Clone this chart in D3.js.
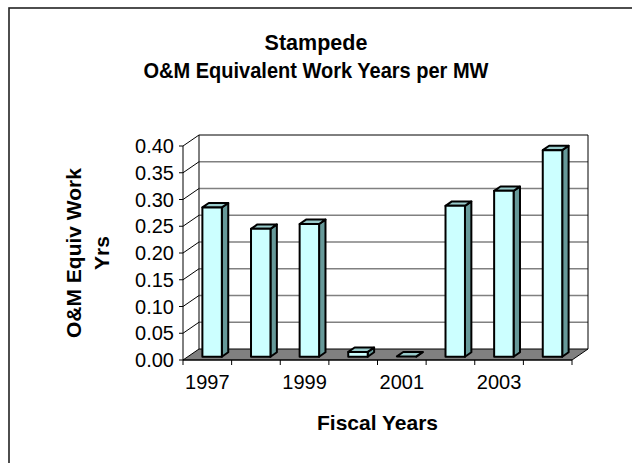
<!DOCTYPE html>
<html>
<head>
<meta charset="utf-8">
<script src="https://cdn.jsdelivr.net/npm/d3@7"></script>
<style>
  html, body { margin: 0; padding: 0; background: #fff; }
  svg { display: block; font-family: Arial, "Liberation Sans", sans-serif; }
</style>
</head>
<body>
<svg id="chart" width="632" height="463"></svg>
<script>
const categories = ["1997","1998","1999","2000","2001","2002","2003","2004"];
const values = [0.279, 0.239, 0.248, 0.009, 0.0005, 0.282, 0.31, 0.386];
const xTickLabels = ["1997","1999","2001","2003"];
const yTicks = [0, 0.05, 0.10, 0.15, 0.20, 0.25, 0.30, 0.35, 0.40];
const titleLines = ["Stampede", "O&M Equivalent Work Years per MW"];
const yTitleLines = ["O&M Equiv Work", "Yrs"];
const xTitle = "Fiscal Years";

const svg = d3.select("#chart");
const W = 632, H = 463;

// 3D projection parameters
const DX = 16, DY = -11;
const proj = (x, y, f) => [x + DX * f, y + DY * f];

const x = d3.scaleBand().domain(categories).range([183, 572]).paddingInner(0.6).paddingOuter(0.3);
const xEdges = d3.scaleLinear().domain([0, categories.length]).range([183, 572]);
const y = d3.scaleLinear().domain([0, 0.4]).range([360, 146]);

// Chart border
svg.append("rect").attr("x", 9).attr("y", 8).attr("width", W).attr("height", H)
  .attr("fill", "#fff").attr("stroke", "#222").attr("stroke-width", 1.6);

// Title
const title = svg.append("g");
title.append("text").attr("x", 316).attr("y", 50)
  .attr("text-anchor", "middle").attr("font-weight", "bold").attr("font-size", 21.5)
  .attr("fill", "#000").text(titleLines[0]);
title.append("text").attr("x", 316).attr("y", 78)
  .attr("text-anchor", "middle").attr("font-weight", "bold").attr("font-size", 21.5)
  .attr("textLength", 345).attr("lengthAdjust", "spacingAndGlyphs")
  .attr("fill", "#000").text(titleLines[1]);

const x0 = xEdges(0), x1 = xEdges(categories.length);
const yb = y(0), yt = y(0.4);
const poly = pts => "M" + pts.map(p => p.join(",")).join("L") + "Z";

// Left wall
svg.append("path").attr("d", poly([[x0, yb], proj(x0, yb, 1), proj(x0, yt, 1), [x0, yt]]))
  .attr("fill", "#fff").attr("stroke", "none");
// Back wall
svg.append("path").attr("d", poly([proj(x0, yb, 1), proj(x1, yb, 1), proj(x1, yt, 1), proj(x0, yt, 1)]))
  .attr("fill", "#fff").attr("stroke", "none");

// Back wall gridlines
svg.append("g").selectAll("line").data(yTicks.slice(1, -1)).join("line")
  .attr("x1", d => proj(x0, y(d), 1)[0]).attr("y1", d => proj(x0, y(d), 1)[1])
  .attr("x2", d => proj(x1, y(d), 1)[0]).attr("y2", d => proj(x1, y(d), 1)[1])
  .attr("stroke", "#808080").attr("stroke-width", 1.5);
// Left wall gridlines
svg.append("g").selectAll("line").data(yTicks.slice(1)).join("line")
  .attr("x1", x0).attr("y1", d => y(d))
  .attr("x2", d => proj(x0, y(d), 1)[0]).attr("y2", d => proj(x0, y(d), 1)[1])
  .attr("stroke", "#000").attr("stroke-width", 1);

// Back wall outline (left, top, right)
svg.append("path")
  .attr("d", "M" + [proj(x0, yb, 1), proj(x0, yt, 1), proj(x1, yt, 1), proj(x1, yb, 1)].map(p => p.join(",")).join("L"))
  .attr("fill", "none").attr("stroke", "#000").attr("stroke-width", 1);

// Floor
svg.append("path").attr("d", poly([[x0, yb], [x1, yb], proj(x1, yb, 1), proj(x0, yb, 1)]))
  .attr("fill", "#808080").attr("stroke", "#000").attr("stroke-width", 1);

// Bars
const F0 = 0.3, F1 = 0.7;
const bars = svg.append("g");
categories.forEach((c, i) => {
  const v = values[i];
  const bx0 = x(c), bx1 = x(c) + x.bandwidth();
  const by0 = y(0), by1 = y(v);
  const g = bars.append("g");
  const front = [proj(bx0, by0, F0), proj(bx1, by0, F0), proj(bx1, by1, F0), proj(bx0, by1, F0)];
  const side = [proj(bx1, by0, F0), proj(bx1, by0, F1), proj(bx1, by1, F1), proj(bx1, by1, F0)];
  const top = [proj(bx0, by1, F0), proj(bx1, by1, F0), proj(bx1, by1, F1), proj(bx0, by1, F1)];
  g.append("path").attr("d", poly(side)).attr("fill", "#669999").attr("stroke", "#000").attr("stroke-width", 2).attr("stroke-linejoin", "round");
  g.append("path").attr("d", poly(top)).attr("fill", "#99CCCC").attr("stroke", "#000").attr("stroke-width", 2).attr("stroke-linejoin", "round");
  if (by0 - by1 > 0.5) {
    g.append("path").attr("d", poly(front)).attr("fill", "#CCFFFF").attr("stroke", "#000").attr("stroke-width", 2).attr("stroke-linejoin", "round");
  }
});

// Y axis
svg.append("line").attr("x1", x0).attr("x2", x0).attr("y1", yt).attr("y2", yb)
  .attr("stroke", "#000").attr("stroke-width", 1);
const yAxisG = svg.append("g");
yAxisG.selectAll("line").data(yTicks).join("line")
  .attr("x1", x0 - 4).attr("x2", x0).attr("y1", d => y(d)).attr("y2", d => y(d))
  .attr("stroke", "#000");
yAxisG.selectAll("text").data(yTicks).join("text")
  .attr("x", x0 - 9).attr("y", d => y(d)).attr("dy", "0.36em")
  .attr("text-anchor", "end").attr("font-size", 20).attr("fill", "#000")
  .text(d => d3.format(".2f")(d));

// X axis
svg.append("line").attr("x1", x0).attr("x2", x1).attr("y1", yb).attr("y2", yb)
  .attr("stroke", "#000").attr("stroke-width", 1);
svg.append("g").selectAll("line").data(d3.range(categories.length + 1)).join("line")
  .attr("x1", d => xEdges(d)).attr("x2", d => xEdges(d)).attr("y1", yb).attr("y2", yb + 5)
  .attr("stroke", "#000");
svg.append("g").selectAll("text").data(xTickLabels).join("text")
  .attr("x", d => x(d) + x.bandwidth() / 2).attr("y", 389)
  .attr("text-anchor", "middle").attr("font-size", 20).attr("fill", "#000")
  .text(d => d);

// Axis titles
svg.append("text").attr("x", (x0 + x1) / 2).attr("y", 430)
  .attr("text-anchor", "middle").attr("font-weight", "bold").attr("font-size", 21)
  .attr("fill", "#000").text(xTitle);
svg.append("g").selectAll("text").data(yTitleLines).join("text")
  .attr("transform", (d, i) => `translate(${81 + i * 28},253) rotate(-90)`)
  .attr("text-anchor", "middle").attr("font-weight", "bold").attr("font-size", 21)
  .attr("fill", "#000").text(d => d);
</script>
</body>
</html>
